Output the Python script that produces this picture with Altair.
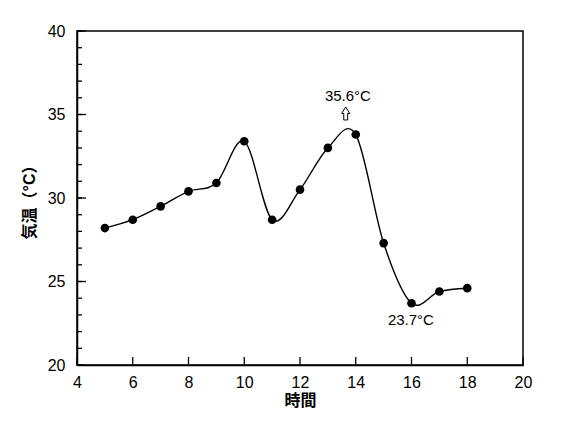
import altair as alt
import pandas as pd

hours = [5, 6, 7, 8, 9, 10, 11, 12, 13, 14, 15, 16, 17, 18]
temps = [28.2, 28.7, 29.5, 30.4, 30.9, 33.4, 28.7, 30.5, 33.0, 33.8, 27.3, 23.7, 24.4, 24.6]

ann_text = ["35.6°C", "23.7°C"]
ann_x = [13.72, 15.98]
ann_y = [36.1, 22.7]

arrow_x = [13.64]
arrow_y = [35.06]

y_minor = list(range(20, 41))
y_major = [20, 25, 30, 35, 40]
x_major = [4, 6, 8, 10, 12, 14, 16, 18, 20]

FONT = "Liberation Sans, Arial, Noto Sans CJK JP"

df = pd.DataFrame({"h": hours, "t": temps})
ann = pd.DataFrame({"x": ann_x, "y": ann_y, "label": ann_text})
arr = pd.DataFrame({"x": arrow_x, "y": arrow_y})

xscale = alt.Scale(domain=[4, 20], nice=False, zero=False)
yscale = alt.Scale(domain=[20, 40], nice=False, zero=False)

xaxis = alt.Axis(values=x_major, ticks=False, labelPadding=9, grid=False,
                 labelFlush=False,
                 title="時間", titleFontWeight="bold", titleFontSize=16, titlePadding=2,
                 labelFontSize=16, labelColor="black", titleColor="black",
                 domainColor="black", domainWidth=1.5, labelFont=FONT, titleFont=FONT)
yaxis = alt.Axis(values=y_major, ticks=False, labelPadding=12, grid=False,
                 labelFlush=False,
                 title="気温（°C）", titleFontWeight="bold", titleFontSize=16, titlePadding=10,
                 labelFontSize=16, labelColor="black", titleColor="black",
                 domainColor="black", domainWidth=1.5, labelFont=FONT, titleFont=FONT)

yminor = alt.Chart(pd.DataFrame({"v": y_minor})).mark_rule(color="black", strokeWidth=1.3).encode(
    y=alt.Y("v:Q", scale=yscale, axis=yaxis), x=alt.value(0), x2=alt.value(5)
)
ymajor = alt.Chart(pd.DataFrame({"v": y_major})).mark_rule(color="black", strokeWidth=1.3).encode(
    y=alt.Y("v:Q", scale=yscale, axis=yaxis), x=alt.value(0), x2=alt.value(9)
)
xmajor = alt.Chart(pd.DataFrame({"w": x_major})).mark_rule(color="black", strokeWidth=1.3).encode(
    x=alt.X("w:Q", scale=xscale, axis=xaxis), y=alt.value(326), y2=alt.value(334)
)

line = alt.Chart(df).mark_line(color="black", strokeWidth=1.4, interpolate="cardinal").encode(
    x=alt.X("h:Q", scale=xscale, axis=xaxis),
    y=alt.Y("t:Q", scale=yscale, axis=yaxis),
)
pts = alt.Chart(df).mark_circle(color="black", size=75, opacity=1).encode(
    x=alt.X("h:Q", scale=xscale, axis=xaxis),
    y=alt.Y("t:Q", scale=yscale, axis=yaxis),
)

labels = alt.Chart(ann).mark_text(fontSize=15, font=FONT, color="black").encode(
    x=alt.X("x:Q", scale=xscale, axis=xaxis), y=alt.Y("y:Q", scale=yscale, axis=yaxis),
    text="label:N"
)
arrow = alt.Chart(arr).mark_point(
    shape="M-0.3,1L-0.3,0L-0.62,0L0,-1L0.62,0L0.3,0L0.3,1Z",
    filled=False, stroke="black", strokeWidth=1, size=169, opacity=1
).encode(x=alt.X("x:Q", scale=xscale, axis=xaxis), y=alt.Y("y:Q", scale=yscale, axis=yaxis))

chart = alt.layer(yminor, ymajor, xmajor, line, pts, labels, arrow).properties(
    width=446, height=334,
    autosize=alt.AutoSizeParams(type="none"),
    padding={"left": 69, "top": 23, "right": 30, "bottom": 50},
).configure_view(stroke="black", strokeWidth=1.5)

chart.save("out.html", embed_options={"renderer": "svg", "actions": False})
